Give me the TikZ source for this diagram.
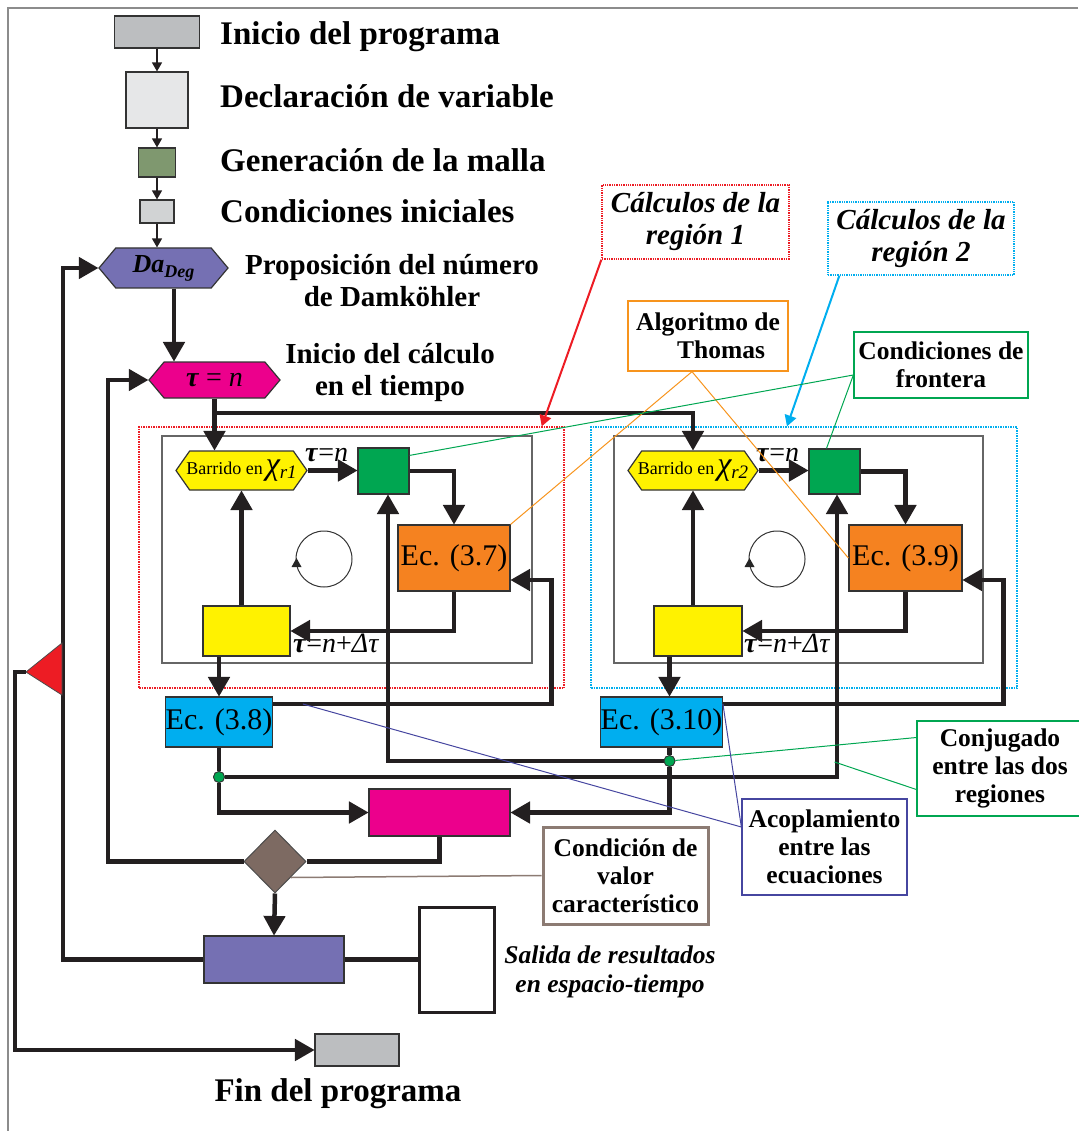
\documentclass[tikz,border=0pt]{standalone}
\usepackage{fontspec}
\setmainfont{Liberation Serif}
\usetikzlibrary{shapes,arrows}
\definecolor{inigray}{RGB}{188,190,192}
\definecolor{declgray}{RGB}{230,231,232}
\definecolor{mallagreen}{RGB}{127,152,111}
\definecolor{condgray}{RGB}{209,211,212}
\definecolor{dapurple}{RGB}{117,112,179}
\definecolor{tmagenta}{RGB}{236,0,140}
\definecolor{byellow}{RGB}{255,242,0}
\definecolor{fgreen}{RGB}{0,166,81}
\definecolor{eorange}{RGB}{245,130,32}
\definecolor{ecyan}{RGB}{0,174,239}
\definecolor{dbrown}{RGB}{125,106,98}
\definecolor{tred}{RGB}{237,28,36}
\definecolor{linek}{RGB}{35,31,32}
\definecolor{acopblue}{RGB}{70,70,160}
\definecolor{condbrown}{RGB}{140,123,115}
\definecolor{algorange}{RGB}{247,148,29}

\begin{document}
\begin{tikzpicture}[x=1pt,y=-1pt]

\tikzstyle{box-b} = [draw=black!80,line width=1.2,inner sep=0]
\tikzstyle{hex-b} = [signal,signal to=west and east,signal pointer angle=100,draw=black!80,line width=1.2,inner sep=0]
\tikzstyle{flow} = [draw=linek,line width=4.5,-triangle 60]
\tikzstyle{wire} = [draw=linek,line width=4.5]
\tikzstyle{thin-flow} = [draw=linek,line width=1.5,-triangle 60]
\tikzstyle{title-t} = [anchor=base west,inner sep=0,font=\fontsize{33}{36}\selectfont\bfseries]
\tikzstyle{sub-t} = [align=center,inner sep=0,font=\fontsize{29}{32}\selectfont\bfseries]
\tikzstyle{call-b} = [draw,line width=1.3,fill=white,align=center,inner sep=0,font=\fontsize{25.5}{28}\selectfont\bfseries]
\tikzstyle{ec-t} = [font=\fontsize{30}{32}\selectfont]
\tikzstyle{tau-t} = [anchor=base west,inner sep=0,font=\fontsize{28}{30}\selectfont]
\tikzstyle{dot-b} = [circle,draw=black!80,fill=fgreen,line width=0.8,minimum size=11,inner sep=0]

\useasboundingbox (0,0) rectangle (1078,1131);
\draw[black!45,line width=1.5] (1078,8) -- (8,8) -- (8,1131);

% main sequence
\node [box-b,fill=inigray,minimum width=85,minimum height=32] (ini) at (157,32) {};
\node [box-b,fill=declgray,minimum width=62,minimum height=56] (decl) at (157,100) {};
\node [box-b,fill=mallagreen,minimum width=37,minimum height=29] (malla) at (157,162.5) {};
\node [box-b,fill=condgray,minimum width=34,minimum height=23] (cini) at (157,211.5) {};
\node [hex-b,fill=dapurple,minimum width=129,minimum height=40] (da) at (163.5,268) {\fontsize{26}{28}\selectfont\bfseries\itshape Da\raisebox{-5pt}{\fontsize{18}{20}\selectfont Deg}};
\node [hex-b,fill=tmagenta,minimum width=131,minimum height=36] (tau) at (214.5,380) {\fontsize{28}{30}\selectfont\textbf{\textit{τ}} = \textit{n}};

\node [title-t] (t-ini) at (220,45) {Inicio del programa};
\node [title-t] (t-decl) at (220,108) {Declaración de variable};
\node [title-t] (t-malla) at (220,172) {Generación de la malla};
\node [title-t] (t-cini) at (220,223) {Condiciones iniciales};
\node [sub-t] (t-da) at (392,281) {Proposición del número\\de Damköhler};
\node [sub-t] (t-tau) at (390,373) {Inicio del cálculo\\en el tiempo};

\draw[thin-flow] (ini) -- (decl);
\draw[thin-flow] (decl) -- (malla);
\draw[thin-flow] (malla) -- (cini);
\draw[thin-flow] (cini) -- (cini |- da.north);
\draw[flow] ([xshift=10.5]da.south) -- ([xshift=10.5]da.south |- tau.north);

% region 1
\node [draw=tred,densely dotted,line width=1.5,minimum width=425,minimum height=261] (reg1) at (351.5,557.5) {};
\node [draw=black!60,line width=1.2,minimum width=370,minimum height=227] (in1) at (347,549.5) {};
\node [hex-b,fill=byellow,minimum width=131,minimum height=39,signal pointer angle=110] (bar1) at (241.5,470.5) {};
\node (bar1-t) at (bar1) {\fontsize{18}{20}\selectfont Barrido en\,{\fontsize{32}{32}\selectfont\itshape χ}\raisebox{-4pt}{\fontsize{19}{20}\selectfont\itshape r1}};
\node [box-b,fill=fgreen,minimum width=51,minimum height=46] (ver1) at (383.5,471) {};
\node [box-b,fill=eorange,minimum width=112,minimum height=66,ec-t] (ec37) at (454,558) {Ec. (3.7)};
\node [box-b,fill=byellow,minimum width=87,minimum height=50] (yel1) at (246.5,631) {};
\node [box-b,fill=ecyan,minimum width=106,minimum height=50,ec-t] (ec38) at (219,722) {Ec. (3.8)};
\draw[black!80,line width=1] (324,559) circle (28);
\fill[black!85] (296.5,558) -- (291.5,567) -- (301.5,567) -- cycle;
\node [tau-t] (tn1) at (305,461) {\textbf{\textit{τ}}=\textit{n}};
\node [tau-t] (tnd1) at (293,652) {\textbf{\textit{τ}}=\textit{n}+\textit{Δτ}};

% region 2
\node [draw=ecyan,densely dotted,line width=1.5,minimum width=426,minimum height=261] (reg2) at (804,557.5) {};
\node [draw=black!60,line width=1.2,minimum width=369,minimum height=227] (in2) at (798.5,549.5) {};
\node [hex-b,fill=byellow,minimum width=130,minimum height=39,signal pointer angle=110] (bar2) at (693,470.5) {};
\node (bar2-t) at (bar2) {\fontsize{18}{20}\selectfont Barrido en\,{\fontsize{32}{32}\selectfont\itshape χ}\raisebox{-4pt}{\fontsize{19}{20}\selectfont\itshape r2}};
\node [box-b,fill=fgreen,minimum width=51,minimum height=45] (ver2) at (834.5,471.5) {};
\node [box-b,fill=eorange,minimum width=113,minimum height=66,ec-t] (ec39) at (905.5,558) {Ec. (3.9)};
\node [box-b,fill=byellow,minimum width=88,minimum height=50] (yel2) at (698,631) {};
\node [box-b,fill=ecyan,minimum width=121,minimum height=50,ec-t] (ec310) at (661.5,722) {Ec. (3.10)};
\draw[black!80,line width=1] (777,559) circle (28);
\fill[black!85] (749.5,558) -- (744.5,567) -- (754.5,567) -- cycle;
\node [tau-t] (tn2) at (756,461) {\textbf{\textit{τ}}=\textit{n}};
\node [tau-t] (tnd2) at (744,652) {\textbf{\textit{τ}}=\textit{n}+\textit{Δτ}};

% time start
\coordinate (tsplit) at (tau.south |- 0,413);
\draw[flow] (tau.south) -- (tau.south |- bar1.north);
\draw[flow] (tsplit) -| (bar2.north);

\draw[flow] (bar1.east) -- (bar1.east -| ver1.west);
\draw[flow] (ver1.east) -| (ec37.north);
\draw[flow] (ec37.south) |- (yel1.east);
\draw[flow] (bar1.south |- yel1.north) -- (bar1.south);
\draw[flow] (ec38.north |- yel1.south) -- (ec38.north);

\draw[flow] (bar2.east) -- (bar2.east -| ver2.west);
\draw[flow] (ver2.east) -| (ec39.north);
\draw[flow] (ec39.south) |- (yel2.east);
\draw[flow] (bar2.south |- yel2.north) -- (bar2.south);
\draw[flow] ([xshift=8]ec310.north |- yel2.south) -- ([xshift=8]ec310.north);

% coupling
\node [dot-b] (dot1) at (219,777) {};
\node [dot-b] (dot2) at (669.5,761) {};
\node [box-b,fill=tmagenta,minimum width=141,minimum height=47] (mag) at (439.5,812.5) {};
\node [diamond,draw=black!70,fill=dbrown,line width=1,minimum width=62,minimum height=63,inner sep=0] (dia) at (275,861.5) {};
\node [box-b,fill=dapurple,minimum width=140,minimum height=47] (pur) at (274,959.5) {};
\node [draw=linek,line width=3,minimum width=75,minimum height=105] (out) at (456.5,959.5) {};
\node [box-b,fill=inigray,minimum width=84,minimum height=32] (fin) at (357,1050) {};
\node [anchor=base,inner sep=0,font=\fontsize{33}{36}\selectfont\bfseries] (t-fin) at (338,1101) {Fin del programa};
\node [align=center,inner sep=0,font=\fontsize{25.5}{29}\selectfont\bfseries\itshape] (t-out) at (610,972) {Salida de resultados\\en espacio-tiempo};

\draw[flow] ([yshift=18]ec38.east) -| ([xshift=41,yshift=-22]ec37.east) -- ([yshift=-22]ec37.east);
\draw[flow] ([yshift=18]ec310.east) -| ([xshift=41,yshift=-22]ec39.east) -- ([yshift=-22]ec39.east);
\draw[wire] (ec38.south) -- (dot1);
\draw[flow] (dot1) -| ([xshift=2.5]ver2.south);
\draw[flow] (dot1) |- (mag.west);
\draw[wire] ([xshift=8]ec310.south) -- (dot2);
\draw[flow] (dot2) -| ([xshift=4.5]ver1.south);
\draw[flow] (dot2) |- (mag.east);
\node [dot-b] at (dot1) {};
\node [dot-b] at (dot2) {};

\draw[wire] (mag.south) |- (dia.east);
\draw[flow] (dia.west) -| ([xshift=-40]tau.west) -- (tau.west);
\draw[flow] (dia.south) -- (pur.north);
\draw[flow] (pur.west) -| ([xshift=-35]da.west) -- (da.west);
\draw[wire] (pur.east) -- (out.west);
\fill[tred,draw=black!70,line width=0.8] (62,643) -- (62,695) -- (26,672) -- cycle;
\coordinate (tri) at (26,672);
\draw[flow] (tri) -- ++(-11,0) |- (fin.west);

% callouts
\node [call-b,draw=tred,densely dotted,font=\fontsize{29}{32}\selectfont\bfseries\itshape,minimum width=187,minimum height=74] (c-reg1) at (695.5,222) {Cálculos de la\\región 1};
\node [call-b,draw=ecyan,densely dotted,font=\fontsize{29}{32}\selectfont\bfseries\itshape,minimum width=186,minimum height=73] (c-reg2) at (921,238.5) {Cálculos de la\\región 2};
\node [call-b,draw=algorange,minimum width=160,minimum height=70] (c-alg) at (708,336) {Algoritmo de\\\hspace*{26pt}Thomas};
\node [call-b,draw=fgreen,minimum width=174,minimum height=66] (c-fro) at (941,365) {Condiciones de\\frontera};
\node [call-b,draw=fgreen,minimum width=166,minimum height=95] (c-conj) at (1000,768.5) {Conjugado\\entre las dos\\regiones};
\node [call-b,draw=acopblue,minimum width=165,minimum height=96] (c-acop) at (824.5,847) {Acoplamiento\\entre las\\ecuaciones};
\node [call-b,draw=condbrown,line width=3,minimum width=165,minimum height=97] (c-val) at (625.5,875.5) {Condición de\\valor\\característico};

\draw[tred,line width=2,-triangle 60] (c-reg1.south west) -- ([xshift=-23]reg1.north east);
\draw[ecyan,line width=2,-triangle 60] ([xshift=12]c-reg2.south west) -- ([xshift=-17]reg2.north);
\draw[algorange,line width=1] ([xshift=-16]c-alg.south) -- (ec37.north east);
\draw[algorange,line width=1] ([xshift=-16]c-alg.south) -- (ec39.west);
\draw[fgreen,line width=1] ([yshift=-10]c-fro.west) -- ([yshift=-8]ver1.north east);
\draw[fgreen,line width=1] ([yshift=-10]c-fro.west) -- ([xshift=-8]ver2.north);
\draw[fgreen,line width=1] ([yshift=31]c-conj.west) -- (dot2);
\draw[fgreen,line width=1] ([yshift=-21]c-conj.west) -- ([yshift=15]dot1 -| ver2.south);
\draw[acopblue,line width=1] ([yshift=20]c-acop.west) -- ([xshift=30,yshift=18]ec38.east);
\draw[acopblue,line width=1] ([yshift=20]c-acop.west) -- ([yshift=18]ec310.east);
\draw[condbrown,line width=1.5] (c-val.west) -- (dia.south east);

\end{tikzpicture}
\end{document}
